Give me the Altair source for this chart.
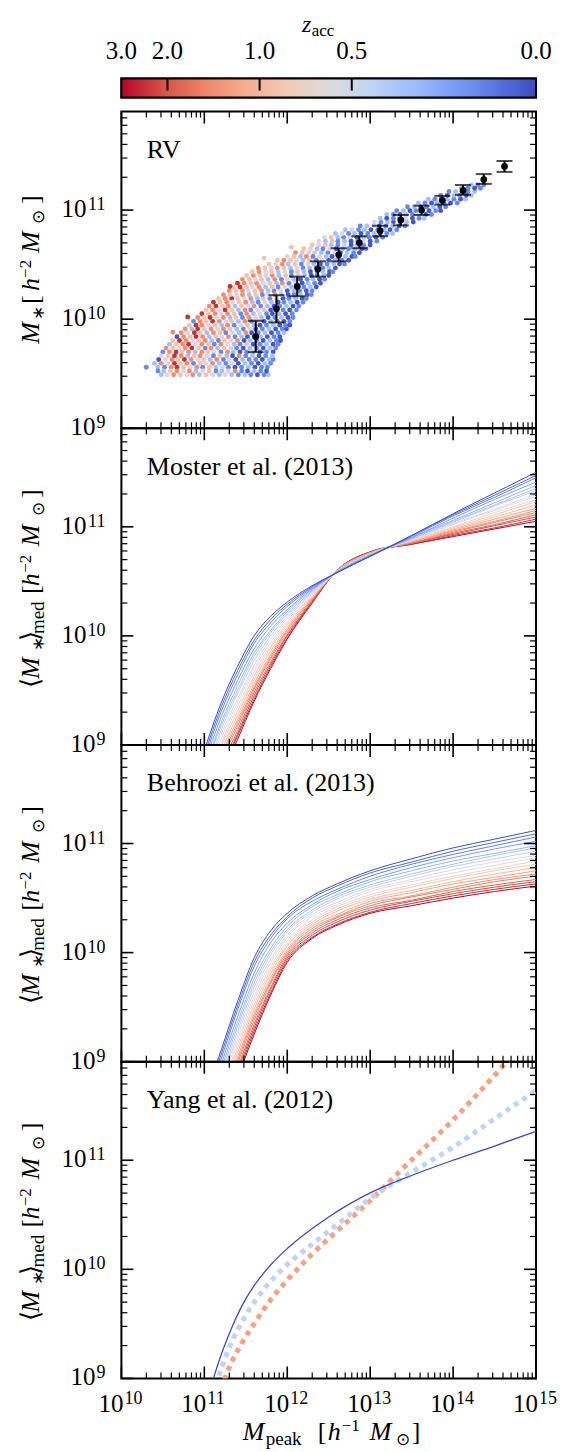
import math
import altair as alt
import pandas as pd

FONT = "Liberation Serif"
W, H = 415, 317
CB_H = 19

# ---------------- colour map: coolwarm reversed, on scale factor a = 1/(1+z_acc)
CMAP = ['#b40426', '#d65244', '#ee8468', '#f7ac8e', '#f2cbb7', '#dddcdc',
        '#c0d4f5', '#9ebeff', '#7b9ff9', '#5977e3', '#3b4cc0']
CB_Z_TICKS = [3.0, 2.0, 1.0, 0.5, 0.0]
CB_Z_MARKS = [2.0, 1.0, 0.5]

PANEL_LABELS = ["RV", "Moster et al. (2013)", "Behroozi et al. (2013)", "Yang et al. (2012)"]

# ---------------- panel 1 : RV scatter (log10 Mpeak, log10 M*, colour code of z_acc)
CODE_Z = {"B": 0.02, "b": 0.12, "l": 0.3, "g": 0.5, "o": 0.9, "r": 1.4, "R": 2.5}
RV_ROW_Y = [9.49, 9.56, 9.63, 9.70, 9.77, 9.84, 9.91, 9.98, 10.05, 10.12, 10.19, 10.26, 10.33,
            10.40, 10.47, 10.54, 10.61, 10.68, 10.75, 10.82, 10.89, 10.96, 11.03, 11.10, 11.17, 11.23]
RV_ROW_X = [
    [10.48, 10.55, 10.63, 10.71, 10.79, 10.86, 10.94, 11.02, 11.10, 11.18, 11.25, 11.33, 11.41, 11.49, 11.56, 11.64, 11.72, 11.77],
    [10.30, 10.44, 10.52, 10.60, 10.67, 10.75, 10.83, 10.91, 10.98, 11.06, 11.14, 11.22, 11.29, 11.37, 11.45, 11.53, 11.61, 11.69, 11.76],
    [10.45, 10.53, 10.61, 10.68, 10.76, 10.84, 10.92, 10.99, 11.07, 11.15, 11.23, 11.30, 11.38, 11.46, 11.54, 11.62, 11.70, 11.78, 11.83],
    [10.50, 10.58, 10.66, 10.73, 10.81, 10.89, 10.97, 11.04, 11.12, 11.20, 11.28, 11.35, 11.43, 11.51, 11.59, 11.67, 11.75, 11.83],
    [10.58, 10.66, 10.74, 10.81, 10.89, 10.97, 11.05, 11.12, 11.20, 11.28, 11.36, 11.43, 11.51, 11.59, 11.67, 11.75, 11.83, 11.89],
    [10.67, 10.75, 10.83, 10.90, 10.98, 11.06, 11.14, 11.21, 11.29, 11.37, 11.45, 11.52, 11.60, 11.68, 11.76, 11.84, 11.91],
    [10.77, 10.85, 10.92, 11.00, 11.08, 11.16, 11.23, 11.31, 11.39, 11.47, 11.55, 11.62, 11.70, 11.78, 11.86, 11.94, 11.99],
    [10.87, 10.95, 11.02, 11.10, 11.18, 11.26, 11.33, 11.41, 11.49, 11.57, 11.64, 11.72, 11.80, 11.88, 11.96, 12.03],
    [10.97, 11.05, 11.13, 11.20, 11.28, 11.36, 11.44, 11.51, 11.59, 11.67, 11.75, 11.82, 11.90, 11.98, 12.06],
    [11.06, 11.14, 11.22, 11.29, 11.37, 11.45, 11.53, 11.60, 11.68, 11.76, 11.84, 11.91, 11.99, 12.07, 12.14],
    [11.17, 11.25, 11.33, 11.40, 11.48, 11.56, 11.64, 11.71, 11.79, 11.87, 11.95, 12.02, 12.10, 12.18, 12.23],
    [11.30, 11.38, 11.46, 11.53, 11.61, 11.69, 11.77, 11.84, 11.92, 12.00, 12.08, 12.15, 12.23, 12.30],
    [11.40, 11.48, 11.56, 11.63, 11.71, 11.79, 11.87, 11.94, 12.02, 12.10, 12.18, 12.25, 12.33, 12.40],
    [11.51, 11.59, 11.67, 11.74, 11.82, 11.90, 11.98, 12.05, 12.13, 12.21, 12.29, 12.36, 12.44, 12.50],
    [11.65, 11.73, 11.81, 11.88, 11.96, 12.04, 12.12, 12.19, 12.27, 12.35, 12.43, 12.50, 12.58],
    [11.88, 11.96, 12.04, 12.11, 12.19, 12.27, 12.35, 12.42, 12.50, 12.58, 12.66, 12.74],
    [12.10, 12.18, 12.26, 12.33, 12.41, 12.49, 12.57, 12.64, 12.72, 12.80, 12.87],
    [12.30, 12.38, 12.46, 12.53, 12.61, 12.69, 12.77, 12.84, 12.92, 13.00],
    [12.45, 12.53, 12.61, 12.68, 12.76, 12.84, 12.92, 12.99, 13.07, 13.15],
    [12.70, 12.78, 12.86, 12.93, 13.01, 13.09, 13.17, 13.24, 13.32],
    [13.05, 13.13, 13.21, 13.28, 13.36, 13.44, 13.52],
    [13.20, 13.28, 13.36, 13.43, 13.51, 13.59, 13.67, 13.74],
    [13.45, 13.53, 13.61, 13.68, 13.76, 13.84, 13.91],
    [13.70, 13.78, 13.86, 13.93, 14.01, 14.09, 14.15],
    [13.95, 14.03, 14.11, 14.18, 14.26],
    [14.22, 14.30, 14.37],
]
RV_ROW_CODE = [
    "lgrogrloglglblbBbl", "blbrRogrbolgbBblBbb", "BgroRrgolrbgBlbbBlb", "brRorlrogbrlBblBbB",
    "lorRgrobrglboBblBb", "BroRrlogrblBblBbB", "rlRorgrolbgBblBbB", "broRrgolrbgBlbBb",
    "RorgrobrlgbBlBb", "rRorlogrblBblBb", "orRogrlobgBblBb", "rorgorlbgBlbBb",
    "RrorgolrbgBlbB", "orogrlobglBblB", "rogrolgblBblB", "oroglobgBlbB",
    "rogolbgBlbB", "ogolbgBlbB", "golbgBlbBb", "lgblBblBb",
    "gblBblB", "lbBlbgBb", "blBblBb", "lbBlbBl", "blBbl", "lbb",
]
RV_ROW2_Y = [9.525, 9.595, 9.665, 9.735, 9.805, 9.875, 9.945, 10.015, 10.085, 10.155, 10.225, 10.295,
             10.365, 10.435, 10.505, 10.575, 10.645, 10.715, 10.785, 10.855, 10.925, 10.995, 11.065,
             11.135, 11.20]
RV_ROW2_X = [
    [10.44, 10.51, 10.59, 10.67, 10.75, 10.82, 10.90, 10.98, 11.06, 11.14, 11.21, 11.29, 11.37, 11.45, 11.52, 11.60, 11.68, 11.75],
    [10.40, 10.48, 10.56, 10.64, 10.71, 10.79, 10.87, 10.95, 11.02, 11.10, 11.18, 11.26, 11.33, 11.41, 11.49, 11.57, 11.65, 11.73, 11.80],
    [10.48, 10.56, 10.64, 10.72, 10.80, 10.88, 10.95, 11.03, 11.11, 11.19, 11.27, 11.34, 11.42, 11.50, 11.58, 11.66, 11.74, 11.82],
    [10.54, 10.62, 10.70, 10.77, 10.85, 10.93, 11.01, 11.08, 11.16, 11.24, 11.32, 11.39, 11.47, 11.55, 11.63, 11.71, 11.79, 11.86],
    [10.62, 10.70, 10.78, 10.86, 10.93, 11.01, 11.09, 11.17, 11.24, 11.32, 11.40, 11.48, 11.55, 11.63, 11.71, 11.79, 11.87, 11.92],
    [10.72, 10.80, 10.88, 10.95, 11.03, 11.11, 11.19, 11.26, 11.34, 11.42, 11.50, 11.57, 11.65, 11.73, 11.81, 11.89, 11.96],
    [10.82, 10.90, 10.97, 11.05, 11.13, 11.21, 11.28, 11.36, 11.44, 11.52, 11.60, 11.67, 11.75, 11.83, 11.91, 11.98, 12.03],
    [10.92, 11.00, 11.07, 11.15, 11.23, 11.31, 11.38, 11.46, 11.54, 11.62, 11.69, 11.77, 11.85, 11.93, 12.01, 12.07],
    [11.02, 11.10, 11.18, 11.25, 11.33, 11.41, 11.49, 11.56, 11.64, 11.72, 11.80, 11.87, 11.95, 12.03, 12.11],
    [11.11, 11.19, 11.27, 11.34, 11.42, 11.50, 11.58, 11.65, 11.73, 11.81, 11.89, 11.96, 12.04, 12.12, 12.19],
    [11.23, 11.31, 11.39, 11.46, 11.54, 11.62, 11.70, 11.77, 11.85, 11.93, 12.01, 12.08, 12.16, 12.24, 12.29],
    [11.35, 11.43, 11.51, 11.58, 11.66, 11.74, 11.82, 11.89, 11.97, 12.05, 12.13, 12.20, 12.28, 12.35],
    [11.46, 11.54, 11.62, 11.69, 11.77, 11.85, 11.93, 12.00, 12.08, 12.16, 12.24, 12.31, 12.39, 12.45],
    [11.58, 11.66, 11.74, 11.81, 11.89, 11.97, 12.05, 12.12, 12.20, 12.28, 12.36, 12.43, 12.51, 12.55],
    [11.78, 11.86, 11.94, 12.01, 12.09, 12.17, 12.25, 12.32, 12.40, 12.48, 12.56, 12.63, 12.69],
    [12.00, 12.08, 12.16, 12.23, 12.31, 12.39, 12.47, 12.54, 12.62, 12.70, 12.78, 12.82],
    [12.20, 12.28, 12.36, 12.43, 12.51, 12.59, 12.67, 12.74, 12.82, 12.90, 12.95],
    [12.38, 12.46, 12.54, 12.61, 12.69, 12.77, 12.85, 12.92, 13.00, 13.08],
    [12.58, 12.66, 12.74, 12.81, 12.89, 12.97, 13.05, 13.12, 13.20, 13.27],
    [12.88, 12.96, 13.04, 13.11, 13.19, 13.27, 13.35, 13.42],
    [13.12, 13.20, 13.28, 13.35, 13.43, 13.51, 13.59, 13.65],
    [13.32, 13.40, 13.48, 13.55, 13.63, 13.71, 13.79, 13.85],
    [13.58, 13.66, 13.74, 13.81, 13.89, 13.97, 14.05],
    [13.85, 13.93, 14.01, 14.08, 14.16, 14.22],
    [14.10, 14.18, 14.26, 14.33],
]
RV_ROW2_CODE = [
    "blorgrlgoblgrbBlbB", "lrgRorbogrlbgBlbBlb", "goRrlorgbolBrblBbl", "rogrRobrlogbBlbBlb",
    "oRrgorlbogrBlbBlbB", "rgRolrobglrBblBbl", "oRrgolrbgolBblBbB", "roRgrlobrglBblBb",
    "orgRolrbgoBlbBb", "RorgorlbglBblBb", "rogrlobgrlBblBb", "oRogrlobglBblB",
    "rogolrbglBblBb", "orgolgbolBblBb", "ogrlobglBblBb", "golrbglBblBb",
    "oglbgBlblBb", "globlBbgBb", "lgblBblBbl", "blgBblBb",
    "lBblgBbl", "blBblBbB", "lbBlbBb", "bBlbBl", "lbBb",
]
RV_EXTRA_X = [10.80, 11.31, 10.62, 11.72, 12.05]
RV_EXTRA_Y = [10.02, 10.30, 9.88, 10.56, 10.66]
RV_EXTRA_CODE = "RRroo"

# error bars (log10 values)
EB_X = [11.62, 11.87, 12.12, 12.37, 12.62, 12.87, 13.12, 13.37, 13.62, 13.87, 14.12, 14.37, 14.62]
EB_Y = [9.84, 10.095, 10.30, 10.46, 10.59, 10.70, 10.81, 10.91, 11.00, 11.09, 11.18, 11.28, 11.40]
EB_HI = [9.985, 10.22, 10.39, 10.53, 10.65, 10.76, 10.857, 10.955, 11.04, 11.13, 11.23, 11.33, 11.45]
EB_LO = [9.698, 9.97, 10.21, 10.39, 10.53, 10.65, 10.76, 10.86, 10.955, 11.05, 11.14, 11.24, 11.35]

# ---------------- panels 2, 3 : families of curves (log10 values), one list per z_acc
CURVE_X = [11.0, 11.2, 11.4, 11.6, 11.8, 12.0, 12.3, 12.6, 13.0, 13.5, 14.0, 14.5, 15.0]
CURVE_Z = [0.0, 0.05, 0.1, 0.17, 0.25, 0.32, 0.4, 0.5, 0.6, 0.72, 0.85, 1.0, 1.2, 1.4, 1.6, 1.9, 2.2, 2.6, 3.0]
MOSTER_Y = [
    [8.95, 9.38, 9.72, 10.00, 10.18, 10.31, 10.46, 10.58, 10.73, 10.92, 11.12, 11.31, 11.50],
    [8.91, 9.34, 9.68, 9.96, 10.15, 10.29, 10.45, 10.58, 10.73, 10.92, 11.11, 11.29, 11.47],
    [8.87, 9.30, 9.64, 9.93, 10.12, 10.27, 10.44, 10.58, 10.73, 10.91, 11.10, 11.27, 11.45],
    [8.82, 9.25, 9.59, 9.88, 10.09, 10.24, 10.43, 10.58, 10.74, 10.90, 11.08, 11.25, 11.41],
    [8.77, 9.20, 9.54, 9.84, 10.05, 10.22, 10.42, 10.59, 10.74, 10.90, 11.06, 11.22, 11.38],
    [8.74, 9.17, 9.50, 9.81, 10.03, 10.20, 10.41, 10.59, 10.74, 10.89, 11.05, 11.20, 11.35],
    [8.70, 9.13, 9.47, 9.77, 10.00, 10.18, 10.40, 10.59, 10.75, 10.89, 11.04, 11.19, 11.33],
    [8.66, 9.09, 9.42, 9.73, 9.97, 10.16, 10.39, 10.59, 10.75, 10.88, 11.03, 11.16, 11.30],
    [8.63, 9.05, 9.39, 9.70, 9.94, 10.14, 10.38, 10.59, 10.75, 10.88, 11.02, 11.15, 11.28],
    [8.59, 9.01, 9.35, 9.67, 9.91, 10.12, 10.37, 10.59, 10.75, 10.88, 11.00, 11.13, 11.25],
    [8.55, 8.98, 9.31, 9.63, 9.89, 10.10, 10.36, 10.59, 10.75, 10.87, 10.99, 11.11, 11.23],
    [8.52, 8.94, 9.27, 9.60, 9.86, 10.08, 10.35, 10.59, 10.76, 10.87, 10.98, 11.09, 11.20],
    [8.48, 8.90, 9.23, 9.56, 9.83, 10.06, 10.34, 10.60, 10.76, 10.86, 10.97, 11.07, 11.17],
    [8.44, 8.87, 9.20, 9.53, 9.81, 10.05, 10.34, 10.60, 10.76, 10.86, 10.96, 11.05, 11.15],
    [8.42, 8.84, 9.17, 9.51, 9.79, 10.03, 10.33, 10.60, 10.76, 10.85, 10.95, 11.04, 11.13],
    [8.38, 8.80, 9.13, 9.48, 9.76, 10.01, 10.32, 10.60, 10.77, 10.85, 10.94, 11.02, 11.11],
    [8.35, 8.77, 9.10, 9.45, 9.74, 10.00, 10.31, 10.60, 10.77, 10.85, 10.93, 11.01, 11.09],
    [8.32, 8.74, 9.08, 9.42, 9.72, 9.98, 10.31, 10.60, 10.77, 10.84, 10.92, 10.99, 11.07],
    [8.30, 8.72, 9.05, 9.40, 9.70, 9.97, 10.30, 10.60, 10.77, 10.84, 10.91, 10.98, 11.05],
]
BEHROOZI_Y = [
    [8.65, 9.10, 9.55, 9.95, 10.20, 10.36, 10.52, 10.63, 10.75, 10.86, 10.96, 11.04, 11.12],
    [8.61, 9.06, 9.51, 9.91, 10.16, 10.33, 10.50, 10.61, 10.73, 10.83, 10.93, 11.01, 11.09],
    [8.58, 9.02, 9.47, 9.87, 10.13, 10.31, 10.47, 10.58, 10.70, 10.81, 10.90, 10.98, 11.06],
    [8.53, 8.97, 9.41, 9.81, 10.09, 10.27, 10.44, 10.56, 10.67, 10.78, 10.87, 10.95, 11.02],
    [8.49, 8.93, 9.36, 9.76, 10.04, 10.24, 10.42, 10.53, 10.65, 10.75, 10.84, 10.91, 10.98],
    [8.46, 8.89, 9.32, 9.72, 10.01, 10.21, 10.39, 10.51, 10.62, 10.72, 10.81, 10.89, 10.96],
    [8.42, 8.85, 9.28, 9.68, 9.98, 10.19, 10.37, 10.49, 10.60, 10.70, 10.79, 10.86, 10.93],
    [8.38, 8.81, 9.24, 9.64, 9.94, 10.16, 10.35, 10.46, 10.58, 10.67, 10.76, 10.83, 10.89],
    [8.35, 8.78, 9.20, 9.60, 9.91, 10.14, 10.33, 10.44, 10.56, 10.65, 10.73, 10.80, 10.87],
    [8.32, 8.74, 9.16, 9.56, 9.87, 10.11, 10.30, 10.42, 10.53, 10.62, 10.70, 10.77, 10.84],
    [8.28, 8.70, 9.12, 9.52, 9.84, 10.08, 10.28, 10.40, 10.51, 10.60, 10.68, 10.75, 10.81],
    [8.25, 8.67, 9.08, 9.48, 9.81, 10.06, 10.26, 10.38, 10.49, 10.57, 10.65, 10.72, 10.78],
    [8.21, 8.63, 9.04, 9.44, 9.77, 10.03, 10.24, 10.35, 10.47, 10.55, 10.63, 10.69, 10.75],
    [8.18, 8.59, 9.01, 9.41, 9.74, 10.01, 10.22, 10.33, 10.45, 10.52, 10.60, 10.67, 10.72],
    [8.16, 8.57, 8.98, 9.38, 9.72, 9.99, 10.20, 10.32, 10.43, 10.51, 10.58, 10.65, 10.70],
    [8.13, 8.53, 8.94, 9.34, 9.68, 9.97, 10.18, 10.30, 10.41, 10.48, 10.56, 10.62, 10.67],
    [8.10, 8.50, 8.91, 9.31, 9.66, 9.95, 10.16, 10.28, 10.39, 10.47, 10.54, 10.60, 10.65],
    [8.07, 8.47, 8.88, 9.28, 9.63, 9.93, 10.14, 10.26, 10.37, 10.45, 10.52, 10.58, 10.63],
    [8.05, 8.45, 8.85, 9.25, 9.61, 9.91, 10.13, 10.25, 10.36, 10.43, 10.50, 10.56, 10.61],
]

# ---------------- panel 4 : Yang et al. (log10 values)
YANG_Z = [0.0, 0.42, 1.2]
YANG_X = [
    [11.0, 11.11, 11.2, 11.3, 11.45, 11.6, 11.8, 12.0, 12.5, 13.0, 13.5, 14.0, 14.5, 15.0],
    [11.1, 11.2, 11.3, 11.5, 11.7, 11.9, 12.1, 12.3, 12.7, 13.0, 13.5, 14.0, 14.5, 15.0],
    [11.2, 11.3, 11.45, 11.6, 11.8, 12.0, 12.3, 12.7, 13.0, 13.4, 14.0, 14.56, 14.7],
]
YANG_Y = [
    [8.72, 9.0, 9.21, 9.41, 9.66, 9.85, 10.04, 10.19, 10.48, 10.70, 10.86, 11.0, 11.13, 11.265],
    [8.85, 9.08, 9.28, 9.58, 9.80, 9.97, 10.11, 10.23, 10.47, 10.65, 10.89, 11.12, 11.38, 11.64],
    [8.90, 9.10, 9.32, 9.50, 9.72, 9.90, 10.14, 10.42, 10.63, 10.93, 11.37, 11.83, 11.95],
]

# ---------------- scales / ticks
X_DECADES = [1e10, 1e11, 1e12, 1e13, 1e14, 1e15]
Y_DECADES = [1e9, 1e10, 1e11]
X_MINOR = [k * 10.0 ** n for n in range(10, 15) for k in range(2, 10)]
Y_MINOR = [k * 10.0 ** n for n in range(9, 12) for k in range(2, 10) if k * 10.0 ** n < 8e11]

X_SCALE = alt.Scale(type="log", domain=[1e10, 1e15], nice=False)
Y_SCALE = alt.Scale(type="log", domain=[1e9, 8e11], nice=False)
A_STOPS = [0.25 + 0.75 * i / (len(CMAP) - 1) for i in range(len(CMAP))]
COLOR_SCALE = alt.Scale(domain=A_STOPS, range=CMAP, clamp=True)

DUMMY = pd.DataFrame({"d": [0]})


def tick_layers():
    out = []
    for vals, L, sw in [(X_DECADES, 12, 1.6), (X_MINOR, 6, 1.2)]:
        df = pd.DataFrame({"v": vals})
        for y0, y1 in [(H, H - L), (0, L)]:
            out.append(alt.Chart(df).mark_rule(color="black", strokeWidth=sw).encode(
                x=alt.X("v:Q", scale=X_SCALE, axis=None), y=alt.value(y0), y2=alt.value(y1)))
    for vals, L, sw in [(Y_DECADES, 12, 1.6), (Y_MINOR, 6, 1.2)]:
        df = pd.DataFrame({"v": vals})
        for x0, x1 in [(0, L), (W, W - L)]:
            out.append(alt.Chart(df).mark_rule(color="black", strokeWidth=sw).encode(
                y=alt.Y("v:Q", scale=Y_SCALE, axis=None), x=alt.value(x0), x2=alt.value(x1)))
    return out


def y_tick_labels():
    df = pd.DataFrame({"v": Y_DECADES, "e": [str(round(math.log10(v))) for v in Y_DECADES]})
    base = alt.Chart(df).transform_calculate(xb="-17 - 9*length(datum.e)").mark_text(
        text="10", font=FONT, fontSize=25, align="right", baseline="alphabetic", dy=7, color="black"
    ).encode(y=alt.Y("v:Q", scale=Y_SCALE, axis=None), x=alt.X("xb:Q", scale=None))
    exp = alt.Chart(df).mark_text(
        font=FONT, fontSize=18, align="right", baseline="alphabetic", dy=0, color="black"
    ).encode(y=alt.Y("v:Q", scale=Y_SCALE, axis=None), x=alt.value(-16), text="e:N")
    return [base, exp]


def x_tick_labels():
    df = pd.DataFrame({"v": X_DECADES, "e": [str(round(math.log10(v))) for v in X_DECADES]})
    base = alt.Chart(df).mark_text(
        text="10", font=FONT, fontSize=25, align="right", baseline="alphabetic", dx=2, color="black"
    ).encode(x=alt.X("v:Q", scale=X_SCALE, axis=None), y=alt.value(H + 34))
    exp = alt.Chart(df).mark_text(
        font=FONT, fontSize=18, align="left", baseline="alphabetic", dx=3, color="black"
    ).encode(x=alt.X("v:Q", scale=X_SCALE, axis=None), y=alt.value(H + 26), text="e:N")
    return [base, exp]


def piece(txt, x, y, size, italic=False, angle=0, align="left"):
    return alt.Chart(DUMMY).mark_text(
        text=txt, font=FONT, fontSize=size, fontStyle="italic" if italic else "normal",
        angle=angle, align=align, baseline="alphabetic", color="black"
    ).encode(x=alt.value(x), y=alt.value(y))


YT_BASE_X = -82.5
YT_P1 = [("M", 232.5, 26, True, 0), ("\u2217", 208.5, 17, False, 5), ("[", 192.5, 26, False, 0),
         ("h", 179.5, 26, True, 0), ("\u22122", 166.5, 17, False, -8), ("M", 141.5, 26, True, 0),
         ("\u2299", 112.5, 17, False, 5), ("]", 92.5, 26, False, 0)]
YT_P = [("\u27e8", 259.7, 26, False, 0), ("M", 251, 26, True, 0), ("\u2217", 223, 17, False, 5),
        ("\u27e9", 213, 26, False, 0), ("med", 206, 19, False, 5), ("[", 166, 26, False, 0),
        ("h", 158, 26, True, 0), ("\u22122", 144.7, 17, False, -8), ("M", 118, 26, True, 0),
        ("\u2299", 88, 17, False, 5), ("]", 69.7, 26, False, 0)]
XT_BASE_Y = 379
XT = [("M", 121.5, 26, True, 0), ("peak", 144.5, 19, False, 5), ("[", 196.5, 26, False, 0),
      ("h", 206.5, 26, True, 0), ("\u22121", 220.5, 17, False, -9), ("M", 248.5, 26, True, 0),
      ("\u2299", 274.5, 17, False, 5), ("]", 290.5, 26, False, 0)]


def ytitle(pieces):
    return [piece(t, YT_BASE_X + s, y, sz, it, angle=270) for (t, y, sz, it, s) in pieces]


def xtitle(pieces):
    return [piece(t, x, XT_BASE_Y + s, sz, it) for (t, x, sz, it, s) in pieces]


def label(i):
    return piece(PANEL_LABELS[i], 25.5, 46.5, 26)


# ---------------- panel 1
rows = []
for ys, xss, css in [(RV_ROW_Y, RV_ROW_X, RV_ROW_CODE), (RV_ROW2_Y, RV_ROW2_X, RV_ROW2_CODE)]:
    for yv, xs, codes in zip(ys, xss, css):
        for xv, c in zip(xs, codes):
            rows.append({"mp": 10 ** xv, "ms": 10 ** yv, "z": CODE_Z[c]})
for xv, yv, c in zip(RV_EXTRA_X, RV_EXTRA_Y, RV_EXTRA_CODE):
    rows.append({"mp": 10 ** xv, "ms": 10 ** yv, "z": CODE_Z[c]})
rv_df = pd.DataFrame(rows)

eb_df = pd.DataFrame({"mp": [10 ** v for v in EB_X], "ms": [10 ** v for v in EB_Y],
                      "lo": [10 ** v for v in EB_LO], "hi": [10 ** v for v in EB_HI]})

scatter = alt.Chart(rv_df).transform_calculate(a="1/(1+datum.z)").mark_circle(
    size=24, opacity=1).encode(
    x=alt.X("mp:Q", scale=X_SCALE, axis=None),
    y=alt.Y("ms:Q", scale=Y_SCALE, axis=None),
    color=alt.Color("a:Q", scale=COLOR_SCALE, legend=None))
eb_rule = alt.Chart(eb_df).mark_rule(color="black", strokeWidth=2).encode(
    x=alt.X("mp:Q", scale=X_SCALE, axis=None), y=alt.Y("lo:Q", scale=Y_SCALE, axis=None), y2="hi:Q")
eb_cap_lo = alt.Chart(eb_df).mark_tick(color="black", orient="horizontal", size=16, thickness=2).encode(
    x=alt.X("mp:Q", scale=X_SCALE, axis=None), y=alt.Y("lo:Q", scale=Y_SCALE, axis=None))
eb_cap_hi = alt.Chart(eb_df).mark_tick(color="black", orient="horizontal", size=16, thickness=2).encode(
    x=alt.X("mp:Q", scale=X_SCALE, axis=None), y=alt.Y("hi:Q", scale=Y_SCALE, axis=None))
eb_pts = alt.Chart(eb_df).mark_circle(color="black", size=45, opacity=1).encode(
    x=alt.X("mp:Q", scale=X_SCALE, axis=None), y=alt.Y("ms:Q", scale=Y_SCALE, axis=None))

p1 = alt.layer(scatter, eb_rule, eb_cap_lo, eb_cap_hi, eb_pts, *tick_layers(), *y_tick_labels(),
               label(0), *ytitle(YT_P1)).properties(width=W, height=H)


# ---------------- panels 2, 3
def family_df(ylists):
    recs = []
    for z, ys in reversed(list(zip(CURVE_Z, ylists))):
        for xv, yv in zip(CURVE_X, ys):
            recs.append({"mp": 10 ** xv, "ms": 10 ** yv, "z": z})
    return pd.DataFrame(recs)


def family_panel(ylists, idx):
    lines = alt.Chart(family_df(ylists)).transform_calculate(a="1/(1+datum.z)").mark_line(
        strokeWidth=1.0, clip=True, interpolate="monotone").encode(
        x=alt.X("mp:Q", scale=X_SCALE, axis=None),
        y=alt.Y("ms:Q", scale=Y_SCALE, axis=None),
        color=alt.Color("a:Q", scale=COLOR_SCALE, legend=None),
        detail="z:N")
    return alt.layer(lines, *tick_layers(), *y_tick_labels(), label(idx),
                     *ytitle(YT_P)).properties(width=W, height=H)


p2 = family_panel(MOSTER_Y, 1)
p3 = family_panel(BEHROOZI_Y, 2)

# ---------------- panel 4
yang_layers = []
styles = [dict(strokeWidth=5, strokeDash=[5, 5]), dict(strokeWidth=5, strokeDash=[5, 5]), dict(strokeWidth=1.3)]
for k, i in enumerate([2, 1, 0]):
    df = pd.DataFrame({"mp": [10 ** v for v in YANG_X[i]], "ms": [10 ** v for v in YANG_Y[i]],
                       "z": [YANG_Z[i]] * len(YANG_X[i])})
    yang_layers.append(alt.Chart(df).transform_calculate(a="1/(1+datum.z)").mark_line(
        clip=True, interpolate="monotone", **styles[k]).encode(
        x=alt.X("mp:Q", scale=X_SCALE, axis=None),
        y=alt.Y("ms:Q", scale=Y_SCALE, axis=None),
        color=alt.Color("a:Q", scale=COLOR_SCALE, legend=None)))

p4 = alt.layer(*yang_layers, *tick_layers(), *y_tick_labels(), *x_tick_labels(), label(3),
               *ytitle(YT_P), *xtitle(XT)).properties(width=W, height=H)

# ---------------- colour bar
CB_A = [1.0 / (1.0 + z) for z in CB_Z_TICKS]
CB_SCALE = alt.Scale(domain=[min(CB_A), max(CB_A)], nice=False, zero=False)
grad = {"gradient": "linear", "x1": 0, "x2": 1, "y1": 0, "y2": 0,
        "stops": [{"offset": i / (len(CMAP) - 1), "color": c} for i, c in enumerate(CMAP)]}
cb_rect = alt.Chart(pd.DataFrame({"a0": [min(CB_A)], "a1": [max(CB_A)]})).mark_rect(
    fill=grad, stroke="black", strokeWidth=2).encode(
    x=alt.X("a0:Q", scale=CB_SCALE, axis=None), x2="a1:Q", y=alt.value(0), y2=alt.value(CB_H))
cb_marks = alt.Chart(pd.DataFrame({"z": CB_Z_MARKS})).transform_calculate(
    a="1/(1+datum.z)").mark_rule(color="black", strokeWidth=2).encode(
    x=alt.X("a:Q", scale=CB_SCALE, axis=None), y=alt.value(0), y2=alt.value(12))
cb_lab_df = pd.DataFrame({"a": CB_A, "t": [f"{z:.1f}" for z in CB_Z_TICKS]})
cb_labels = alt.Chart(cb_lab_df).mark_text(
    font=FONT, fontSize=25, align="center", baseline="alphabetic", color="black").encode(
    x=alt.X("a:Q", scale=CB_SCALE, axis=None), y=alt.value(-20), text="t:N")
cbar = alt.layer(cb_rect, cb_marks, cb_labels,
                 piece("z", 190, -47, 24, True, align="right"),
                 piece("acc", 190.5, -43, 17)).properties(width=W, height=CB_H)

inner = alt.vconcat(p1, p2, p3, p4, spacing=0, bounds="flush")
chart = alt.vconcat(cbar, inner, spacing=14, bounds="flush").properties(
    padding={"left": 7.5, "top": 3, "right": 5, "bottom": 5}
).configure_view(stroke="black", strokeWidth=2)

chart.save("out.html", embed_options={"renderer": "svg", "actions": False})
